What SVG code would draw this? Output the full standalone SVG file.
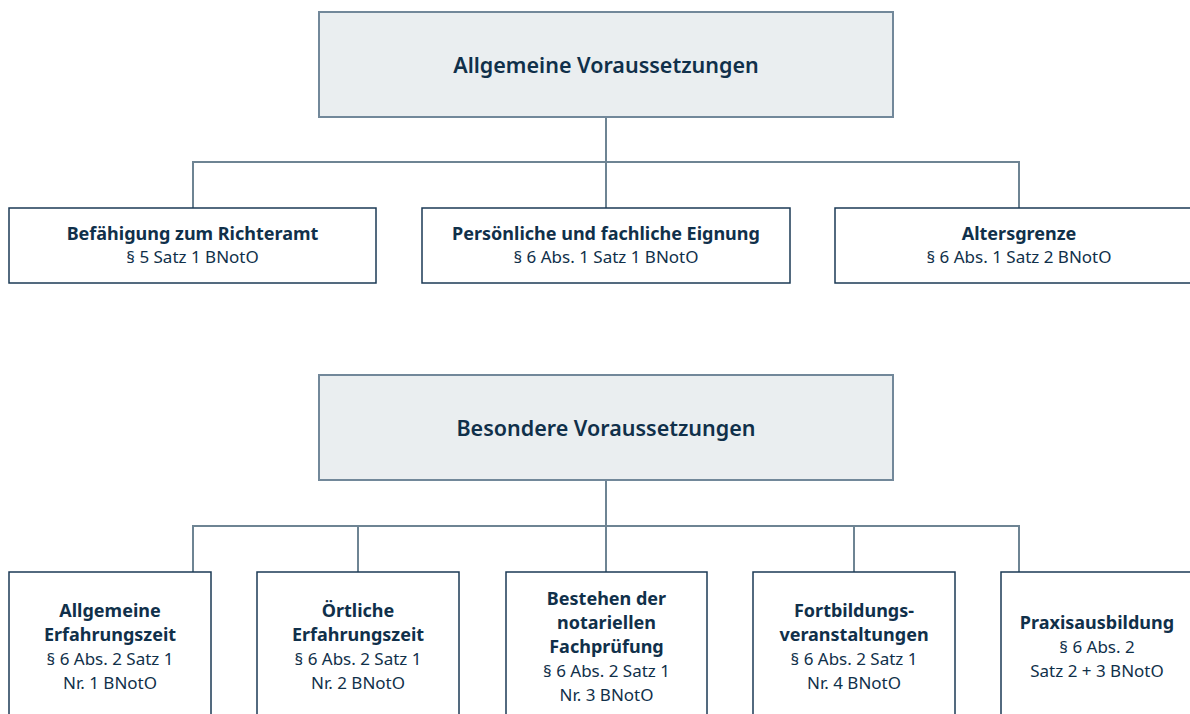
<svg xmlns="http://www.w3.org/2000/svg" width="1190" height="714" viewBox="0 0 1190 714">
<style>
.hdr{fill:#eaeef0;stroke:#72889a;stroke-width:2}
.box{fill:#ffffff;stroke:#1b3a55;stroke-width:1.5}
.con{fill:none;stroke:#6e8493;stroke-width:2}
text{font-family:"Noto Sans","Open Sans","DejaVu Sans",sans-serif;fill:#10304a;text-anchor:middle}
.h{font-size:21.5px;font-weight:600}
.b{font-size:18px;font-weight:700}
.r{font-size:17px;font-weight:400}
</style>
<rect width="1190" height="714" fill="#ffffff"/>
<g id="connectors">
<path class="con" d="M606 117 V208 M193 208 V162 H1019 V208"/>
<path class="con" d="M606 480 V572 M193 572 V526 H1019 V572 M358 526 V572 M854 526 V572"/>
</g>
<g id="n-allg">
<rect class="hdr" x="319" y="12" width="574" height="105"/>
<text class="h" x="606" y="73">Allgemeine Voraussetzungen</text>
</g>
<g id="n-bef">
<rect class="box" x="9" y="208" width="367" height="75"/>
<text class="b" x="192.5" y="240">Befähigung zum Richteramt</text>
<text class="r" x="192.5" y="263">§ 5 Satz 1 BNotO</text>
</g>
<g id="n-pers">
<rect class="box" x="422" y="208" width="368" height="75"/>
<text class="b" x="606" y="240">Persönliche und fachliche Eignung</text>
<text class="r" x="606" y="263">§ 6 Abs. 1 Satz 1 BNotO</text>
</g>
<g id="n-alter">
<rect class="box" x="835" y="208" width="368" height="75"/>
<text class="b" x="1019" y="240">Altersgrenze</text>
<text class="r" x="1019" y="263">§ 6 Abs. 1 Satz 2 BNotO</text>
</g>
<g id="n-bes">
<rect class="hdr" x="319" y="375" width="574" height="105"/>
<text class="h" x="606" y="436">Besondere Voraussetzungen</text>
</g>
<g id="n-e1">
<rect class="box" x="9" y="572" width="202" height="160"/>
<text class="b" x="110" y="617">Allgemeine</text>
<text class="b" x="110" y="641">Erfahrungszeit</text>
<text class="r" x="110" y="665">§ 6 Abs. 2 Satz 1</text>
<text class="r" x="110" y="689">Nr. 1 BNotO</text>
</g>
<g id="n-e2">
<rect class="box" x="257" y="572" width="202" height="160"/>
<text class="b" x="358" y="617">Örtliche</text>
<text class="b" x="358" y="641">Erfahrungszeit</text>
<text class="r" x="358" y="665">§ 6 Abs. 2 Satz 1</text>
<text class="r" x="358" y="689">Nr. 2 BNotO</text>
</g>
<g id="n-e3">
<rect class="box" x="506" y="572" width="201" height="160"/>
<text class="b" x="606.5" y="605">Bestehen der</text>
<text class="b" x="606.5" y="629">notariellen</text>
<text class="b" x="606.5" y="653">Fachprüfung</text>
<text class="r" x="606.5" y="677">§ 6 Abs. 2 Satz 1</text>
<text class="r" x="606.5" y="701">Nr. 3 BNotO</text>
</g>
<g id="n-e4">
<rect class="box" x="753" y="572" width="202" height="160"/>
<text class="b" x="854" y="617">Fortbildungs-</text>
<text class="b" x="854" y="641">veranstaltungen</text>
<text class="r" x="854" y="665">§ 6 Abs. 2 Satz 1</text>
<text class="r" x="854" y="689">Nr. 4 BNotO</text>
</g>
<g id="n-e5">
<rect class="box" x="1001" y="572" width="202" height="160"/>
<text class="b" x="1097" y="629">Praxisausbildung</text>
<text class="r" x="1097" y="653">§ 6 Abs. 2</text>
<text class="r" x="1097" y="677">Satz 2 + 3 BNotO</text>
</g>
</svg>
